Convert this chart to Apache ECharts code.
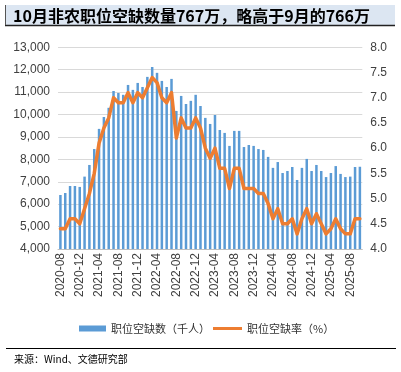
<!DOCTYPE html>
<html><head><meta charset="utf-8">
<script src="https://cdn.jsdelivr.net/npm/echarts@6/dist/echarts.min.js"></script>
<style>html,body{margin:0;padding:0;background:#fff}#c{width:401px;height:372px}</style>
</head><body><div id="c"></div>
<script>
var months = ['2020-08','2020-09','2020-10','2020-11','2020-12','2021-01','2021-02','2021-03','2021-04','2021-05','2021-06','2021-07','2021-08','2021-09','2021-10','2021-11','2021-12','2022-01','2022-02','2022-03','2022-04','2022-05','2022-06','2022-07','2022-08','2022-09','2022-10','2022-11','2022-12','2023-01','2023-02','2023-03','2023-04','2023-05','2023-06','2023-07','2023-08','2023-09','2023-10','2023-11','2023-12','2024-01','2024-02','2024-03','2024-04','2024-05','2024-06','2024-07','2024-08','2024-09','2024-10','2024-11','2024-12','2025-01','2025-02','2025-03','2025-04','2025-05','2025-06','2025-07','2025-08','2025-09','2025-10'];
var openings = [6410,6500,6810,6810,6770,7230,7750,8460,9360,9890,10300,11050,10960,10880,11320,11100,11410,11230,11680,12120,11860,11500,11230,11590,10160,10830,10470,10610,10880,10380,9850,9580,9980,9310,9180,8600,9270,9270,8550,8640,8600,8460,8420,8110,7620,7880,7390,7480,7660,7080,7620,8020,7480,7750,7480,7210,7390,7700,7350,7210,7230,7660,7670];
var rates = [4.4,4.4,4.6,4.6,4.5,4.8,5.1,5.5,6.1,6.4,6.6,7.0,6.9,6.9,7.1,6.9,7.1,7.0,7.2,7.4,7.3,7.0,6.9,7.1,6.2,6.6,6.4,6.4,6.6,6.4,6.0,5.8,6.0,5.6,5.6,5.2,5.6,5.6,5.2,5.2,5.2,5.1,5.1,4.9,4.6,4.8,4.5,4.5,4.6,4.3,4.6,4.8,4.5,4.7,4.5,4.3,4.4,4.6,4.4,4.3,4.3,4.6,4.6];
var titleText = '10月非农职位空缺数量767万，略高于9月的766万';
var barName = '职位空缺数（千人）';
var lineName = '职位空缺率（%）';
var sourceText = '来源：Wind、文德研究部';

var chart = echarts.init(document.getElementById('c'), null, {renderer:'canvas'});
var axisFont = {fontFamily:'Liberation Sans, Arial, sans-serif', fontSize:12, color:'#404040'};
chart.setOption({
  animation:false,
  graphic:[
    {type:'rect', shape:{x:5,y:5,width:390,height:20}, style:{fill:'#dce6f2'}},
    {type:'line', shape:{x1:5,y1:25.5,x2:395,y2:25.5}, style:{stroke:'#222',lineWidth:1.5}},
    {type:'line', shape:{x1:5.5,y1:5,x2:5.5,y2:25}, style:{stroke:'#555',lineWidth:1}},
    {type:'text', x:13, y:15.5, style:{text:titleText, fill:'#000', font:'bold 16px "Noto Sans CJK SC", sans-serif', textVerticalAlign:'middle'}},
    {type:'line', shape:{x1:6,y1:348.5,x2:396,y2:348.5}, style:{stroke:'#000',lineWidth:1}},
    {type:'text', x:14, y:359, style:{text:sourceText, fill:'#000', font:'10px "Noto Sans CJK SC", sans-serif', textVerticalAlign:'middle'}}
  ],
  legend:[
    {left:74, top:318, itemWidth:27, itemHeight:6, icon:'rect', itemGap:10, data:[barName],
     textStyle:{fontFamily:'"Noto Sans CJK SC", sans-serif', fontSize:11, color:'#333'}},
    {left:208, top:318, itemWidth:29, itemHeight:3, icon:'rect', data:[lineName],
     textStyle:{fontFamily:'"Noto Sans CJK SC", sans-serif', fontSize:11, color:'#333'}}
  ],
  grid:{left:58, right:38.7, top:47.3, bottom:123, containLabel:false},
  xAxis:{type:'category', data:months, boundaryGap:true,
    axisLine:{lineStyle:{color:'#bfbfbf'}},
    axisTick:{interval:3, length:4, lineStyle:{color:'#bfbfbf'}},
    axisLabel:Object.assign({interval:3, rotate:90, margin:4}, axisFont)},
  yAxis:[
    {type:'value', min:4000, max:13000, interval:1000,
     axisLine:{show:false}, axisTick:{show:false},
     splitLine:{lineStyle:{color:'#d9d9d9'}},
     axisLabel:Object.assign({margin:8, formatter:function(v){return v.toLocaleString('en-US');}}, axisFont)},
    {type:'value', min:4, max:8, interval:0.5,
     axisLine:{show:false}, axisTick:{show:false}, splitLine:{show:false},
     axisLabel:Object.assign({margin:8, formatter:function(v){return v.toFixed(1);}}, axisFont)}
  ],
  series:[
    {name:barName, type:'bar', data:openings, barWidth:2.5, itemStyle:{color:'#5b9bd5'}},
    {name:lineName, type:'line', yAxisIndex:1, data:rates, symbol:'none', itemStyle:{color:'#ed7d31'},
     lineStyle:{color:'#ed7d31', width:3.5, cap:'round', join:'round'}}
  ]
});
</script></body></html>
